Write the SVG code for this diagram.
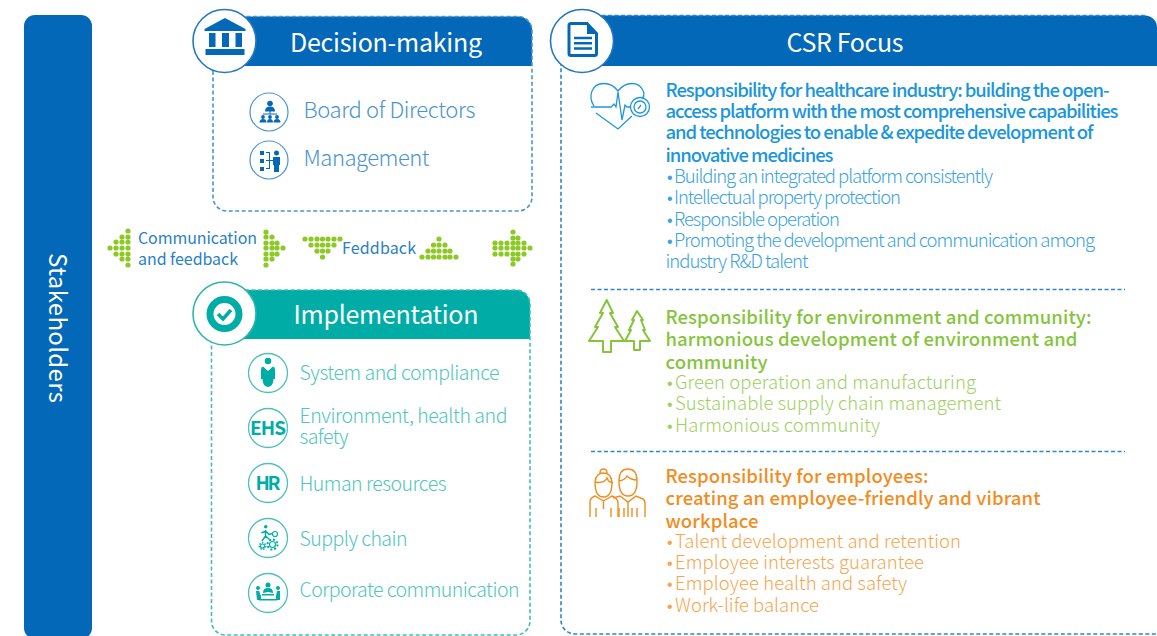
<svg xmlns="http://www.w3.org/2000/svg" width="1157" height="636" viewBox="0 0 1157 636">
<style>
text{font-family:"Noto Sans CJK SC","Noto Sans",sans-serif}
tspan.bu{font-family:"Liberation Sans",sans-serif;font-size:16px}
.hd{font-size:25px;fill:#fff;text-anchor:middle;font-weight:400}
.db{font-size:22px;fill:#4a94d0;font-weight:300}
.im{font-size:19.5px;fill:#4fc6be;font-weight:300}
.ab{font-size:16px;fill:#2a7fc6;font-weight:400}
.bh{font-size:18.5px;fill:#1b96dd;font-weight:500}
.bb{font-size:18.5px;fill:#3aa3e2;font-weight:300}
.gh{font-size:18.5px;fill:#86c43c;font-weight:500}
.gb{font-size:18.5px;fill:#a0d05f;font-weight:300}
.oh{font-size:18.5px;fill:#f28c1e;font-weight:500}
.ob{font-size:18.5px;fill:#f6a54e;font-weight:300}
.dash-b{fill:none;stroke:#4a94d0;stroke-width:1.6;stroke-dasharray:4 2.5}
.dash-t{fill:none;stroke:#3fbfb7;stroke-width:1.6;stroke-dasharray:4 2.5}
.div{stroke:#2a86d0;stroke-width:1.4;stroke-dasharray:4 2.5}
.ring-b{fill:#fff;stroke:#2478bf;stroke-width:1.6}
.ring-t{fill:#fff;stroke:#2db5ad;stroke-width:1.6}
.ring-s{fill:#fff;stroke:#4fc0b9;stroke-width:1.3}
.ring-d{fill:#fff;stroke:#4a94d0;stroke-width:1.2}
.sb{fill:none;stroke:#1f96dc;stroke-width:1.3}
.sg{fill:none;stroke:#86c43c;stroke-width:2;stroke-linejoin:round}
.so{fill:none;stroke:#f28c1e;stroke-width:1.4}
.fb{fill:#0468b8}
.ft{fill:#00ada6}
.dots circle{fill:#8cc924;r:2.6px}
</style>

<g id="stakeholders">
<rect x="24" y="15" width="68" height="624" rx="11" class="fb"/>
<text transform="translate(49,328) rotate(90)" font-size="24" fill="#fff" text-anchor="middle" font-weight="400" textLength="150">Stakeholders</text>
</g>

<g id="decision-making">
<path d="M225 16.500H518a14 14 0 0 1 14 14V66H225Z" class="fb"/>
<rect x="213" y="16.500" width="319" height="194.500" rx="14" class="dash-b"/>
<circle cx="224.500" cy="41" r="31.500" class="ring-b"/>
<path d="M225 18L245.500 29V31H204.500V29Z" class="fb"/>
<path d="M209 33h6.500v14h-6.500zM222 33h7v14h-7zM235.500 33h6.500v14h-6.500z" class="fb"/>
<rect x="205.500" y="49" width="39" height="6" class="fb"/>
<text x="386" y="52" class="hd" textLength="192">Decision-making</text>
<circle cx="269" cy="112" r="19" class="ring-d"/>
<g class="fb">
<circle cx="270" cy="103.500" r="2.800"/><path d="M265 111.500q0-5 5-5t5 5z"/>
<path d="M269.500 111h1v3h-1zM263 113.500h14v1h-14z"/>
<circle cx="263" cy="117" r="1.900"/><path d="M259.500 122.500q0-3.500 3.500-3.500t3.500 3.500z"/>
<circle cx="277" cy="117" r="1.900"/><path d="M273.500 122.500q0-3.500 3.500-3.500t3.500 3.500z"/>
<circle cx="270" cy="117" r="1.900"/><path d="M267 122.500q0-3.500 3-3.500t3 3.500z"/>
</g>
<text x="303.500" y="118" class="db" textLength="172">Board of Directors</text>
<circle cx="269" cy="160" r="19" class="ring-d"/>
<g class="fb">
<rect x="260" y="151" width="4" height="4"/><rect x="260" y="159" width="4" height="4"/><rect x="260" y="167" width="4" height="4"/>
<path d="M266 152h4v17h-4v-1h3v-7h-3v-1h3v-7h-3zM270 160h4v1h-4z"/>
<circle cx="276.500" cy="153" r="2.500"/><path d="M273 157h7v8h-1v7h-5v-7h-1z"/>
</g>
<text x="303.500" y="166" class="db" textLength="126">Management</text>
</g>

<g id="feedback-row">
<g class="dots" id="arrow-left">
<circle cx="110" cy="248"/>
<circle cx="116" cy="242"/><circle cx="116" cy="248"/><circle cx="116" cy="254"/>
<circle cx="122" cy="237"/><circle cx="122" cy="242"/><circle cx="122" cy="248"/><circle cx="122" cy="254"/><circle cx="122" cy="259"/>
<circle cx="128" cy="231"/><circle cx="128" cy="237"/><circle cx="128" cy="242"/><circle cx="128" cy="248"/><circle cx="128" cy="254"/><circle cx="128" cy="259"/><circle cx="128" cy="265"/>
</g>
<text x="138" y="244" class="ab" textLength="119">Communication</text>
<text x="138" y="265" class="ab" textLength="100">and feedback</text>
<g class="dots" id="arrow-right">
<circle cx="266" cy="232"/><circle cx="266" cy="237"/><circle cx="266" cy="243"/><circle cx="266" cy="248"/><circle cx="266" cy="254"/><circle cx="266" cy="259"/><circle cx="266" cy="265"/>
<circle cx="272" cy="237"/><circle cx="272" cy="243"/><circle cx="272" cy="248"/><circle cx="272" cy="254"/><circle cx="272" cy="259"/>
<circle cx="277" cy="243"/><circle cx="277" cy="248"/><circle cx="277" cy="254"/>
<circle cx="283" cy="248"/>
</g>
<g class="dots" id="arrow-down">
<circle cx="305" cy="239"/><circle cx="311" cy="239"/><circle cx="317" cy="239"/><circle cx="322.500" cy="239"/><circle cx="328" cy="239"/><circle cx="334" cy="239"/><circle cx="340" cy="239"/>
<circle cx="311" cy="245"/><circle cx="317" cy="245"/><circle cx="322.500" cy="245"/><circle cx="328" cy="245"/><circle cx="334" cy="245"/>
<circle cx="317" cy="251"/><circle cx="322.500" cy="251"/><circle cx="328" cy="251"/>
<circle cx="322.500" cy="257"/>
</g>
<text x="342" y="254" class="ab" textLength="74">Feddback</text>
<g class="dots" id="arrow-up">
<circle cx="439" cy="239"/>
<circle cx="433.500" cy="245"/><circle cx="439" cy="245"/><circle cx="445" cy="245"/>
<circle cx="428" cy="251"/><circle cx="433.500" cy="251"/><circle cx="439" cy="251"/><circle cx="445" cy="251"/><circle cx="450" cy="251"/>
<circle cx="422" cy="257"/><circle cx="428" cy="257"/><circle cx="433.500" cy="257"/><circle cx="439" cy="257"/><circle cx="445" cy="257"/><circle cx="450" cy="257"/><circle cx="456" cy="257"/>
</g>
<g class="dots" id="arrow-right-2">
<circle cx="513" cy="232"/>
<circle cx="513" cy="238"/><circle cx="518" cy="238"/>
<circle cx="495" cy="243"/><circle cx="501" cy="243"/><circle cx="507" cy="243"/><circle cx="513" cy="243"/><circle cx="518" cy="243"/><circle cx="524" cy="243"/>
<circle cx="495" cy="248"/><circle cx="501" cy="248"/><circle cx="507" cy="248"/><circle cx="513" cy="248"/><circle cx="518" cy="248"/><circle cx="524" cy="248"/><circle cx="530" cy="248"/>
<circle cx="495" cy="254"/><circle cx="501" cy="254"/><circle cx="507" cy="254"/><circle cx="513" cy="254"/><circle cx="518" cy="254"/><circle cx="524" cy="254"/>
<circle cx="513" cy="259"/><circle cx="518" cy="259"/>
<circle cx="513" cy="264"/>
</g>
</g>

<g id="implementation">
<path d="M225 290H516a14 14 0 0 1 14 14V339H225Z" class="ft"/>
<rect x="211.500" y="290" width="318.500" height="345" rx="14" class="dash-t"/>
<circle cx="224.500" cy="313.500" r="31.500" class="ring-t"/>
<circle cx="224.500" cy="314" r="14.500" fill="#fff" stroke="#00ada6" stroke-width="7"/>
<path d="M218 314l5 5 8-9" fill="none" stroke="#00ada6" stroke-width="3.500"/>
<text x="386" y="323.500" class="hd" textLength="185">Implementation</text>

<circle cx="268" cy="373" r="19.500" class="ring-s"/>
<circle cx="268" cy="361" r="3.300" class="ft"/>
<path d="M263 366.500q-2 .5-2 3v9.500h1.500q0 7 5.500 8 5.500-1 5.500-8h1.500v-9.500q0-2.500-2-3l-5 4.500z" class="ft"/>
<text x="299.500" y="380" class="im" textLength="200">System and compliance</text>

<circle cx="268" cy="428" r="19.500" class="ring-s"/>
<text x="268" y="435" font-size="19" font-weight="700" fill="#00ada6" text-anchor="middle" textLength="36">EHS</text>
<text x="299.500" y="423" class="im" textLength="208">Environment, health and</text>
<text x="299.500" y="444" class="im" textLength="49">safety</text>

<circle cx="268" cy="483" r="19.500" class="ring-s"/>
<text x="268" y="490" font-size="19" font-weight="700" fill="#00ada6" text-anchor="middle" textLength="25">HR</text>
<text x="299.500" y="491" class="im" textLength="147">Human resources</text>

<circle cx="268" cy="538" r="19.500" class="ring-s"/>
<g fill="none" stroke="#00ada6">
<circle cx="275" cy="534" r="2.500" stroke-width="1.200"/>
<circle cx="272.500" cy="544.500" r="3" stroke-width="1.200"/>
<circle cx="272.500" cy="544.500" r="5" stroke-width="2" stroke-dasharray="2 1.900"/>
<circle cx="262.500" cy="546" r="2" stroke-width="1.100"/>
<circle cx="262.500" cy="546" r="3.300" stroke-width="1.400" stroke-dasharray="1.500 1.400"/>
<path d="M265.500 530v6l-3.500 5M265.500 536l4 3.500M261.500 533l4-2 3.500 3.500 3-1" stroke-width="1.500"/>
</g>
<circle cx="265.700" cy="526.800" r="1.800" class="ft"/>
<text x="299.500" y="546" class="im" textLength="108">Supply chain</text>

<circle cx="268" cy="593" r="19.500" class="ring-s"/>
<g class="ft">
<circle cx="268" cy="585" r="2.500"/><path d="M263 593q0-5 5-5t5 5l-5-1z"/>
<circle cx="258" cy="588" r="2"/><path d="M256 591h3l2 5v4h-4z"/>
<circle cx="278" cy="588" r="2"/><path d="M277 591h3v9h-4v-4z"/>
<rect x="259" y="599" width="18" height="1.500"/>
<rect x="262" y="594" width="12" height="1.500"/>
</g>
<text x="299.500" y="597" class="im" textLength="220">Corporate communication</text>
</g>

<g id="csr-focus">
<path d="M582 15.500H1145a12 12 0 0 1 12 12V66H582Z" class="fb"/>
<path d="M1145 15.500H575a14 14 0 0 0-14 14V620a14 14 0 0 0 14 14H1170" class="dash-b" style="stroke:#2d84cb"/>
<circle cx="582" cy="41" r="31.500" class="ring-b"/>
<path d="M571 23.500h16l9.500 10v20a2 2 0 0 1-2 2H571a2 2 0 0 1-2-2V25.500a2 2 0 0 1 2-2Z" fill="none" stroke="#0468b8" stroke-width="3"/>
<path d="M587 23v11h9.500Z" class="fb"/>
<path d="M574 38h18M574 43.300h18M574 48.500h18" stroke="#0468b8" stroke-width="2.400"/>
<text x="845" y="52" class="hd" textLength="117">CSR Focus</text>

<g id="healthcare">
<path d="M596 113L618 129L632 116M594 106C588 97 591 83.500 604 83.500C610 83.500 615 87 618 91C621 87 626 83.500 632 83.500C642 83.500 646 94 642.500 98" class="sb"/>
<path d="M591 107H611l3-3 2 3 2-15 4 28 3-15 2 2h4" class="sb"/>
<circle cx="640" cy="107" r="9.500" fill="#fff" stroke="#1f96dc" stroke-width="1.300"/>
<circle cx="640" cy="107" r="6" class="sb"/>
<path d="M638 109l3-4" class="sb"/>
<text x="665.500" y="97" class="bh" textLength="444">Responsibility for healthcare industry: building the open-</text>
<text x="665.500" y="118" class="bh" textLength="453">access platform with the most comprehensive capabilities</text>
<text x="665.500" y="139" class="bh" textLength="428">and technologies to enable &amp; expedite development of</text>
<text x="665.500" y="162" class="bh" textLength="168">innovative medicines</text>
<text x="667" y="183" class="bb"><tspan class="bu">•</tspan><tspan x="674" textLength="319">Building an integrated platform consistently</tspan></text>
<text x="667" y="204" class="bb"><tspan class="bu">•</tspan><tspan x="674" textLength="227">Intellectual property protection</tspan></text>
<text x="667" y="226" class="bb"><tspan class="bu">•</tspan><tspan x="674" textLength="166">Responsible operation</tspan></text>
<text x="667" y="247" class="bb"><tspan class="bu">•</tspan><tspan x="674" textLength="421">Promoting the development and communication among</tspan></text>
<text x="665.500" y="268" class="bb" textLength="143">industry R&amp;D talent</text>
</g>
<line x1="591" y1="289.500" x2="1125" y2="289.500" class="div"/>

<g id="environment">
<path d="M606.700 300L600 313H603L595 327H598L589 341H603V352H611V341H624L615 327H618L610 313H613Z" class="sg"/>
<path d="M637 311L632 320H634L629 330H631L625 341H634V350H640V341H650L643 330H645L641 320H643Z" class="sg"/>
<text x="665.500" y="324" class="gh" textLength="426">Responsibility for environment and community:</text>
<text x="665.500" y="346" class="gh" textLength="412">harmonious development of environment and</text>
<text x="665.500" y="369" class="gh" textLength="102">community</text>
<text x="667" y="389" class="gb"><tspan class="bu">•</tspan><tspan x="675" textLength="301">Green operation and manufacturing</tspan></text>
<text x="667" y="410" class="gb"><tspan class="bu">•</tspan><tspan x="675" textLength="326">Sustainable supply chain management</tspan></text>
<text x="667" y="432" class="gb"><tspan class="bu">•</tspan><tspan x="675" textLength="205">Harmonious community</tspan></text>
</g>
<line x1="591" y1="451.500" x2="1125" y2="451.500" class="div"/>

<g id="employees">
<path d="M595 482q0 15 8.500 15t8.500-15q-1-9-8.500-9t-8.500 9ZM595 482q9 2 12-4 1 4 6 5M600 473q0-4 3.500-4t3.500 4" class="so"/>
<path d="M619 481q0 15 9 15t9-15q0-12-9-12t-9 12ZM619 481q6-1 8-5 4 4 10 4" class="so"/>
<path d="M590 517v-15q0-4 5-6l8.500 5 8.500-5q5 2 6 6v15M603.500 501v8M596 508v9M611 508v9" class="so"/>
<path d="M613 498l7-2 8 6 8-6 7 3q2 1 2 5v13M628 502v15M624 508v9M632 508v9M637 508v9M619 508v9" class="so"/>
<text x="665.500" y="483" class="oh" textLength="263">Responsibility for employees:</text>
<text x="665.500" y="505" class="oh" textLength="375">creating an employee-friendly and vibrant</text>
<text x="665.500" y="528" class="oh" textLength="93">workplace</text>
<text x="667" y="548" class="ob"><tspan class="bu">•</tspan><tspan x="675" textLength="286">Talent development and retention</tspan></text>
<text x="667" y="569" class="ob"><tspan class="bu">•</tspan><tspan x="675" textLength="249">Employee interests guarantee</tspan></text>
<text x="667" y="590" class="ob"><tspan class="bu">•</tspan><tspan x="675" textLength="232">Employee health and safety</tspan></text>
<text x="667" y="612" class="ob"><tspan class="bu">•</tspan><tspan x="675" textLength="144">Work-life balance</tspan></text>
</g>
</g>
</svg>
